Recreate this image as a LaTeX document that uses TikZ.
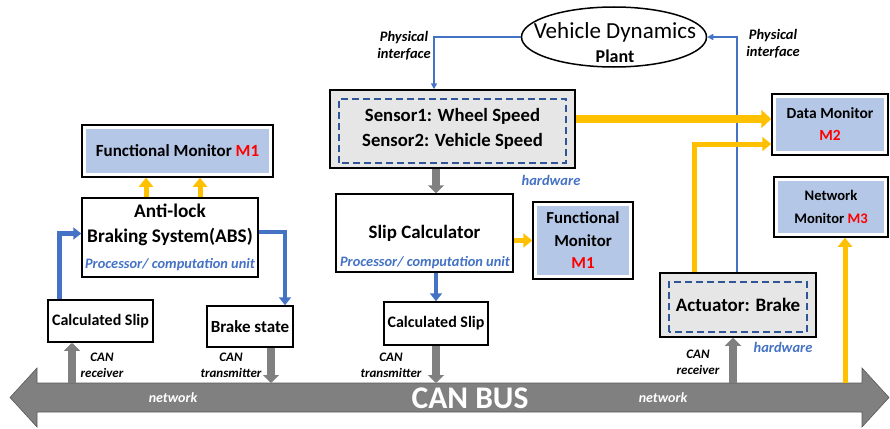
\documentclass[tikz,border=0pt]{standalone}
\usepackage{fontspec}
\setmainfont{Carlito}
\usepackage{xcolor}
\usepackage{tikz}
\usetikzlibrary{calc, arrows.meta, positioning, shapes.geometric}

\definecolor{monblue}{HTML}{B4C7E7}
\definecolor{hwgray}{HTML}{E7E6E6}
\definecolor{hwblue}{HTML}{2F5597}
\definecolor{linkblue}{HTML}{4472C4}
\definecolor{gold}{HTML}{FFC000}
\definecolor{busgray}{HTML}{808080}

\newcommand{\fs}[2]{\fontsize{#1}{#2}\selectfont}

\tikzset{
    box/.style={draw=black, line width=1.5pt, fill=white, inner sep=2pt, align=center,
        font=\bfseries\fs{17}{20}},
    % blue panel inside the frame
    monitor/.style={box, path picture={
        \fill[monblue] ([shift={(4pt,4pt)}]path picture bounding box.south west)
            rectangle ([shift={(-4pt,-4pt)}]path picture bounding box.north east);}},
    % hardware block with dashed inner border
    hwbox/.style={box, fill=hwgray, path picture={
        \draw[hwblue, line width=1.4pt, dash pattern=on 7pt off 4pt]
            ([shift={(9pt,5pt)}]path picture bounding box.south west)
            rectangle ([shift={(-9pt,-9pt)}]path picture bounding box.north east);}},
    proctext/.style={text=linkblue, font=\bfseries\itshape\fs{14.4}{16}},
    hwtext/.style={text=linkblue, font=\bfseries\itshape\fs{14.5}{16}},
    note/.style={align=center, font=\bfseries\itshape\fs{14.5}{16.5}},
    cannote/.style={note, font=\bfseries\itshape\fs{13}{16}},
    nettext/.style={text=white, font=\bfseries\itshape\fs{14}{16}},
    canarrow/.style={busgray, line width=8pt, -{Triangle[length=8pt,width=16pt]}},
    goldarrow/.style={gold, line width=5pt, -{Triangle[length=9pt,width=14pt]}},
    goldthick/.style={gold, line width=8pt, -{Triangle[length=10pt,width=18pt]}},
    bluearrow/.style={linkblue, line width=4.5pt, -{Triangle[length=8pt,width=12pt]}},
    physline/.style={linkblue, line width=1.5pt, -{Triangle[length=6pt,width=6pt]}},
}

\begin{document}
\begin{tikzpicture}[x=1pt, y=-1pt]
    \useasboundingbox (0,0) rectangle (890,428);

    % CAN bus (double arrow)
    \fill[busgray, draw=black!65, line width=0.6pt] (10,397.5) -- (37,368) -- (37,383) -- (862,383) -- (862,368)
        -- (889,397.5) -- (862,427) -- (862,412) -- (37,412) -- (37,427) -- cycle;
    \coordinate (bustop) at (0,383);
    \node[text=white, font=\bfseries\fs{31.5}{33}] (busname) at (470,398) {CAN BUS};
    \node[nettext] (netL) at (173,398) {network};
    \node[nettext] (netR) at (663,398) {network};

    % Plant
    \node[draw, ellipse, line width=1.5pt, fill=white, minimum width=185, minimum height=60] (plant) at (614,37) {};
    \node[font=\fs{23}{25}] (planttitle) at (615,32) {Vehicle Dynamics};
    \node[font=\bfseries\fs{18}{20}] (plantsub) at (615,56) {Plant};

    % ABS side
    \node[monitor, minimum width=191, minimum height=52] (fmleft) at (177.5,151) {Functional Monitor \textcolor{red}{M1}};
    \node[box, minimum width=176, minimum height=79] (absbox) at (170,237.5) {};
    \node[font=\bfseries\fs{19.3}{25}, align=center] (abstext) at (170,225) {Anti-lock\\Braking System(ABS)};
    \node[proctext] (absproc) at (170,265) {Processor/ computation unit};
    \node[box, minimum width=105, minimum height=42, font=\bfseries\fs{16}{18}] (calcslipL) at (100.5,321) {Calculated Slip};
    \node[box, minimum width=86, minimum height=41, font=\bfseries\fs{17}{19}] (brakestate) at (250,326.5) {Brake state};

    % Sensor and slip calculator
    \node[hwbox, minimum width=245, minimum height=78, font=\bfseries\fs{18.7}{25}] (sensor) at (452.5,129) {Sensor1: Wheel Speed\\Sensor2: Vehicle Speed};
    \node[hwtext] (sensorhw) at (551,180) {hardware};
    \node[box, minimum width=177, minimum height=78, font=\bfseries\fs{18.9}{21}] (slipcalc) at (424.5,233) {Slip Calculator};
    \node[proctext] (slipproc) at (425,263) {Processor/ computation unit};
    \node[monitor, minimum width=100, minimum height=77, font=\bfseries\fs{16.8}{22.5}] (fmmid) at (583,240.5) {Functional\\Monitor\\\textcolor{red}{M1}};
    \node[box, minimum width=104, minimum height=43, font=\bfseries\fs{16}{18}] (calcslipM) at (436,323.5) {Calculated Slip};

    % Right side
    \node[monitor, minimum width=116, minimum height=61, font=\bfseries\fs{15.5}{22}] (datamon) at (830,124.5) {Data Monitor\\\textcolor{red}{M2}};
    \node[monitor, minimum width=114, minimum height=60, font=\bfseries\fs{14.6}{23}] (netmon) at (831,207) {Network\\Monitor \textcolor{red}{M3}};
    \node[hwbox, minimum width=156, minimum height=64, font=\bfseries\fs{19}{21}] (actuator) at (738,305) {\raisebox{-3pt}{Actuator: Brake}};
    \node[hwtext] (acthw) at (783,347) {hardware};

    % Physical interfaces
    \draw[physline] (plant.west) -| (sensor.north -| 434,0);
    \draw[physline] (actuator.north -| 737,0) |- (plant.east);
    \node[note] (physL) at (404,46) {Physical\\interface};
    \node[note] (physR) at (773,44) {Physical\\interface};

    % Blue data paths
    \draw[bluearrow] ([xshift=12pt]calcslipL.north west) |- ([yshift=4pt]absbox.west);
    \draw[bluearrow] ([yshift=5.5pt]absbox.east) -| (brakestate.north -| 285,0);
    \draw[bluearrow] (slipcalc.south -| calcslipM) -- (calcslipM.north);

    % Gray arrows to and from the bus
    \draw[canarrow] (sensor.south -| calcslipM) -- (slipcalc.north -| calcslipM);
    \draw[canarrow] (bustop -| 72,0) -- (calcslipL.south -| 72,0);
    \draw[canarrow] (brakestate.south -| 271,0) -- (bustop -| 271,0);
    \draw[canarrow] (calcslipM.south) -- (bustop -| calcslipM);
    \draw[canarrow] (bustop -| 733,0) -- (actuator.south -| 733,0);
    \node[cannote] (rxL) at (102,365) {CAN\\receiver};
    \node[cannote] (txB) at (231,365) {CAN\\transmitter};
    \node[cannote] (txM) at (391,365) {CAN\\transmitter};
    \node[cannote] (rxR) at (698,362) {CAN\\receiver};

    % Monitor feeds
    \foreach \mx in {146,200}
        \draw[goldarrow] (absbox.north -| \mx,0) -- (fmleft.south -| \mx,0);
    \draw[goldarrow] (slipcalc.east |- fmmid.west) -- (fmmid.west);
    \draw[goldthick] (sensor.east |- 0,119) -- (datamon.west |- 0,119);
    \draw[goldarrow] (actuator.north -| 694,0) |- (datamon.west |- 0,144);
    \draw[goldarrow] (bustop -| 845,0) -- (netmon.south -| 845,0);
\end{tikzpicture}
\end{document}
